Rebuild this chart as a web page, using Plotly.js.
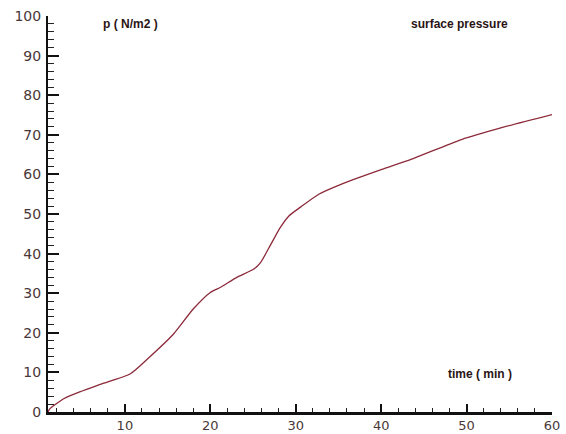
<!DOCTYPE html>
<html>
<head>
<meta charset="utf-8">
<script src="https://cdn.plot.ly/plotly-3.0.1.min.js"></script>
<style>html,body{margin:0;padding:0;background:#fff;}#chart{width:566px;height:434px;}</style>
</head>
<body>
<div id="chart"></div>
<script>
var time = [1, 1.2, 2.9, 5, 7.1, 10.6, 12.9, 15.7, 18, 20, 21.2, 23.1, 25.1, 25.9, 27.1, 28.2, 29.2, 30.6, 32.7, 35.3, 40, 43.5, 49.4, 54.1, 60];
var pressure = [0, 0.8, 3.4, 5.3, 7, 9.6, 13.9, 19.7, 26, 30.2, 31.5, 34, 36.1, 37.8, 42.4, 46.6, 49.5, 51.8, 55, 57.5, 61.2, 63.8, 68.8, 71.8, 75.1];
var yLabel = "p ( N/m2 )";
var xLabel = "time ( min )";
var chartTitle = "surface pressure";

var labelFont = {family: "Liberation Sans, Arial, sans-serif", size: 12, color: "#2a1414", weight: "bold"};
var tickFontY = {family: "DejaVu Sans, sans-serif", size: 14, color: "#4a3838"};
var tickFontX = {family: "DejaVu Sans, sans-serif", size: 13, color: "#4a3838"};

var trace = {
  x: time, y: pressure, type: "scatter", mode: "lines",
  line: {color: "#8c2a3a", width: 1.3, shape: "spline", smoothing: 0.6},
  hoverinfo: "skip"
};

var layout = {
  width: 566, height: 434,
  margin: {l: 48, r: 14, t: 16, b: 22},
  paper_bgcolor: "#fff", plot_bgcolor: "#fff",
  showlegend: false,
  xaxis: {
    range: [1, 60], tick0: 0, dtick: 10, tickmode: "linear",
    ticks: "inside", ticklen: 8, tickwidth: 2, tickcolor: "#111",
    showline: true, linecolor: "#111", linewidth: 2.5,
    showgrid: false, zeroline: false, tickfont: tickFontX, ticklabelstandoff: 0,
    minor: {dtick: 2, tick0: 0, ticks: "inside", ticklen: 4, tickwidth: 1, tickcolor: "#222", showgrid: false}
  },
  yaxis: {
    range: [0, 100], tick0: 0, dtick: 10, tickmode: "linear",
    ticks: "inside", ticklen: 11, tickwidth: 2, tickcolor: "#111",
    showline: true, linecolor: "#111", linewidth: 2,
    showgrid: false, zeroline: false, tickfont: tickFontY, ticklabelstandoff: 2,
    minor: {dtick: 2, tick0: 0, ticks: "inside", ticklen: 6, tickwidth: 1, tickcolor: "#222", showgrid: false}
  },
  annotations: [
    {text: yLabel, xref: "paper", yref: "paper", x: 0.163, y: 0.98, showarrow: false, font: labelFont, xanchor: "center", yanchor: "middle"},
    {text: chartTitle, xref: "paper", yref: "paper", x: 0.817, y: 0.98, showarrow: false, font: labelFont, xanchor: "center", yanchor: "middle"},
    {text: xLabel, xref: "paper", yref: "paper", x: 0.857, y: 0.096, showarrow: false, font: labelFont, xanchor: "center", yanchor: "middle"}
  ]
};

Plotly.newPlot("chart", [trace], layout, {displayModeBar: false, staticPlot: true});
</script>
</body>
</html>
